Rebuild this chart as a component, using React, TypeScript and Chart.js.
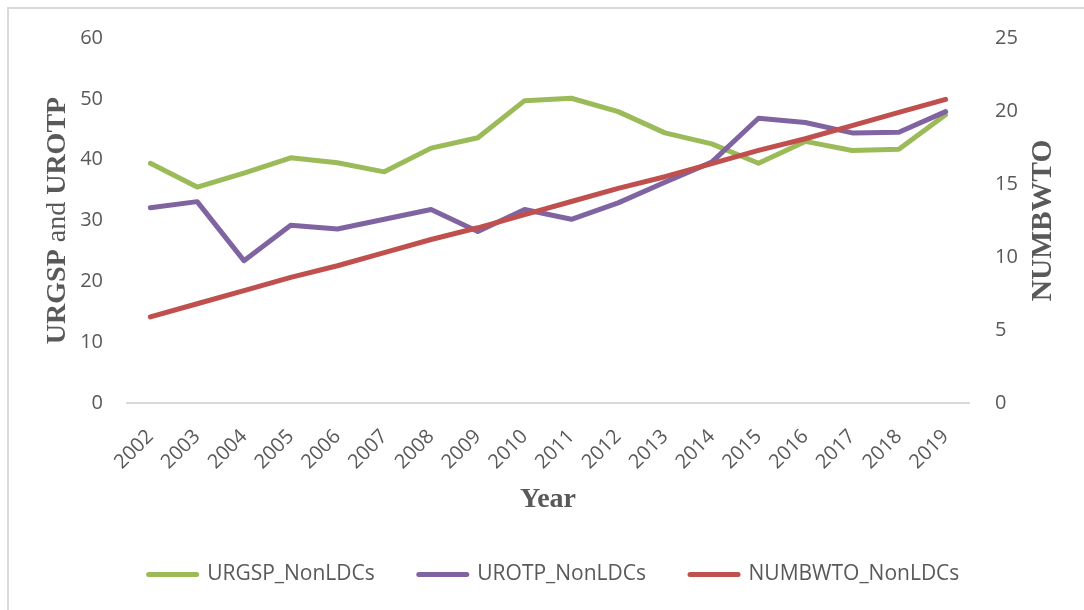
import React, { useEffect, useRef } from "react";
import { Chart, registerables } from "chart.js";

Chart.register(...registerables);

const years = ["2002", "2003", "2004", "2005", "2006", "2007", "2008", "2009", "2010", "2011", "2012", "2013", "2014", "2015", "2016", "2017", "2018", "2019"];
const urgspNonLDCs = [39.4, 35.5, 37.8, 40.3, 39.5, 38.0, 41.9, 43.6, 49.7, 50.1, 47.9, 44.4, 42.6, 39.4, 43.0, 41.5, 41.7, 47.4];
const urotpNonLDCs = [32.1, 33.1, 23.4, 29.2, 28.6, 30.2, 31.8, 28.2, 31.8, 30.2, 32.9, 36.3, 39.6, 46.8, 46.1, 44.4, 44.5, 47.9];
const numbwtoNonLDCs = [5.9, 6.8, 7.7, 8.6, 9.4, 10.3, 11.2, 12.0, 12.9, 13.8, 14.7, 15.5, 16.4, 17.3, 18.1, 19.0, 19.9, 20.8];

const seriesNames = ["URGSP_NonLDCs", "UROTP_NonLDCs", "NUMBWTO_NonLDCs"];
const seriesColors = ["#9BBB59", "#8064A2", "#C0504D"];
const leftTitleParts = [
  { text: "URGSP", bold: true },
  { text: " and ", bold: false },
  { text: "UROTP", bold: true },
];
const rightTitle = "NUMBWTO";
const xTitle = "Year";

const TEXT = "#595959";
const SANS = "'Open Sans', sans-serif";
const SERIF = "'Liberation Serif', 'DejaVu Serif', serif";

const axisTitlesPlugin = {
  id: "axisTitles",
  afterDraw(chart: any) {
    const { ctx, chartArea } = chart;
    const cy = (chartArea.top + chartArea.bottom) / 2;
    const font = (b: boolean, size: number) => `${b ? "bold " : ""}${size}px ${SERIF}`;
    ctx.save();
    ctx.fillStyle = TEXT;
    ctx.textBaseline = "alphabetic";
    ctx.textAlign = "left";
    // left title (mixed weights)
    const ls = 28;
    let total = 0;
    const widths = leftTitleParts.map((p) => {
      ctx.font = font(p.bold, ls);
      const w = ctx.measureText(p.text).width;
      total += w;
      return w;
    });
    ctx.translate(56, cy);
    ctx.rotate(-Math.PI / 2);
    let x = -total / 2;
    leftTitleParts.forEach((p, i) => {
      ctx.font = font(p.bold, ls);
      ctx.fillText(p.text, x, (ls * 0.662) / 2);
      x += widths[i];
    });
    ctx.restore();

    const rs = 29.5;
    ctx.save();
    ctx.fillStyle = TEXT;
    ctx.textBaseline = "alphabetic";
    ctx.textAlign = "center";
    ctx.font = font(true, rs);
    ctx.translate(1041, cy);
    ctx.rotate(-Math.PI / 2);
    ctx.fillText(rightTitle, 0, (rs * 0.662) / 2);
    ctx.restore();
  },
};

export default function App() {
  const canvasRef = useRef<HTMLCanvasElement | null>(null);

  useEffect(() => {
    const canvas = canvasRef.current;
    if (!canvas) return;
    const values = [urgspNonLDCs, urotpNonLDCs, numbwtoNonLDCs];
    const axes = ["y", "y", "y1"];
    const orders = [3, 2, 1];
    const chart = new Chart(canvas, {
      type: "line",
      data: {
        labels: years,
        datasets: values.map((v, i) => ({
          label: seriesNames[i],
          data: v,
          yAxisID: axes[i],
          order: orders[i],
          borderColor: seriesColors[i],
          backgroundColor: seriesColors[i],
          borderWidth: 5,
          borderCapStyle: "round",
          borderJoinStyle: "round",
          pointRadius: 0,
          pointHoverRadius: 0,
          tension: 0,
          fill: false,
        })),
      },
      options: {
        animation: false,
        responsive: false,
        maintainAspectRatio: false,
        layout: { padding: { left: 24, right: 0, top: 37, bottom: 15 } },
        plugins: {
          tooltip: { enabled: false },
          legend: {
            position: "bottom",
            align: "center",
            labels: {
              usePointStyle: true,
              pointStyle: "line",
              pointStyleWidth: 48,
              padding: 44,
              color: TEXT,
              font: { family: SANS, size: 21 },
              sort: (a: any, b: any) => a.datasetIndex - b.datasetIndex,
              generateLabels: (c: any) =>
                Chart.defaults.plugins.legend.labels.generateLabels(c).map((it: any) => ({
                  ...it,
                  lineWidth: 5,
                  lineCap: "round",
                  strokeStyle: seriesColors[it.datasetIndex],
                  fillStyle: seriesColors[it.datasetIndex],
                  pointStyle: "line",
                })),
            },
          },
        },
        scales: {
          x: {
            type: "category",
            offset: true,
            grid: { display: false, drawTicks: false },
            border: { display: true, color: "#d9d9d9", width: 2 },
            ticks: {
              autoSkip: false,
              minRotation: 45,
              maxRotation: 45,
              padding: 22,
              color: TEXT,
              font: { family: SANS, size: 20 },
            },
            title: {
              display: true,
              text: xTitle,
              color: TEXT,
              font: { family: SERIF, size: 28, weight: "bold" },
              padding: { top: 0, bottom: 3 },
            },
            afterFit: (s: any) => {
              s.height = 117;
            },
          },
          y: {
            position: "left",
            min: 0,
            max: 60,
            grid: { display: false, drawTicks: false },
            border: { display: false },
            ticks: {
              stepSize: 10,
              padding: 24,
              color: TEXT,
              font: { family: SANS, size: 20 },
            },
            afterFit: (s: any) => {
              s.width = 103;
            },
          },
          y1: {
            position: "right",
            min: 0,
            max: 25,
            grid: { display: false, drawTicks: false },
            border: { display: false },
            ticks: {
              stepSize: 5,
              padding: 26,
              color: TEXT,
              font: { family: SANS, size: 20 },
            },
            afterFit: (s: any) => {
              s.width = 115;
            },
          },
        },
      },
      plugins: [axisTitlesPlugin],
    } as any);
    return () => chart.destroy();
  }, []);

  return (
    <div
      style={{
        position: "fixed",
        left: 0,
        top: 0,
        width: 1084,
        height: 610,
        overflow: "hidden",
        background: "#ffffff",
      }}
    >
      <div
        style={{
          position: "absolute",
          left: 7,
          top: 7,
          width: 1100,
          height: 620,
          border: "2px solid #d9d9d9",
        }}
      />
      <canvas
        ref={canvasRef}
        width={1084}
        height={610}
        style={{ position: "absolute", left: 0, top: 0, width: 1084, height: 610 }}
      />
    </div>
  );
}
